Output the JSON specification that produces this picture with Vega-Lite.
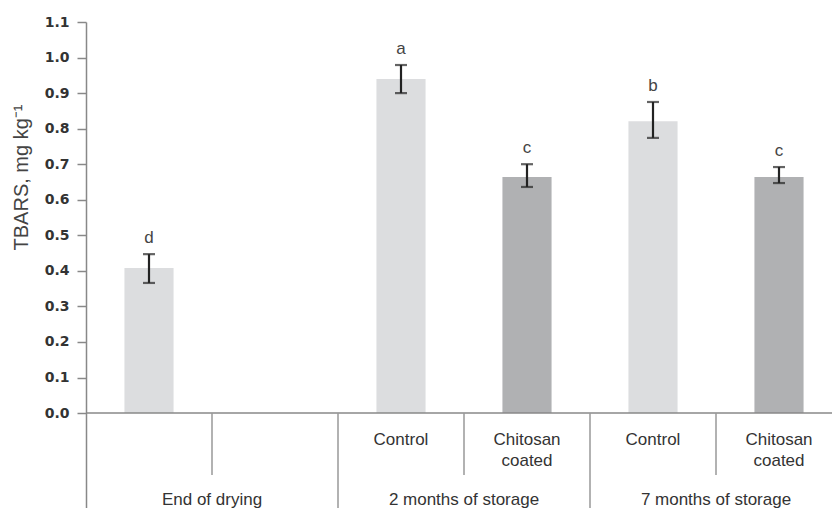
{
  "$schema": "https://vega.github.io/schema/vega-lite/v6.json",
  "autosize": {"type": "none"},
  "padding": {"left": 86, "top": 22, "right": 0, "bottom": 0},
  "width": 746,
  "height": 486,
  "background": "white",
  "config": {
    "view": {"stroke": null},
    "axisX": {"disable": true},
    "text": {"font": "Liberation Sans"}
  },
  "datasets": {
    "bars": [
      {"slot": "s1", "period": "End of drying", "treatment": "Control", "value": 0.408, "lo": 0.366, "hi": 0.447, "letter": "d"},
      {"slot": "s3", "period": "2 months of storage", "treatment": "Control", "value": 0.940, "lo": 0.900, "hi": 0.979, "letter": "a"},
      {"slot": "s4", "period": "2 months of storage", "treatment": "Chitosan coated", "value": 0.664, "lo": 0.636, "hi": 0.700, "letter": "c"},
      {"slot": "s5", "period": "7 months of storage", "treatment": "Control", "value": 0.821, "lo": 0.774, "hi": 0.875, "letter": "b"},
      {"slot": "s6", "period": "7 months of storage", "treatment": "Chitosan coated", "value": 0.664, "lo": 0.647, "hi": 0.692, "letter": "c"}
    ],
    "subs": [
      {"slot": "s3", "label": "Control"},
      {"slot": "s4", "label": "Chitosan\ncoated"},
      {"slot": "s5", "label": "Control"},
      {"slot": "s6", "label": "Chitosan\ncoated"}
    ],
    "groups": [
      {"slot": "s1", "label": "End of drying"},
      {"slot": "s3", "label": "2 months of storage"},
      {"slot": "s5", "label": "7 months of storage"}
    ],
    "shortDiv": [{"slot": "s2"}, {"slot": "s4"}, {"slot": "s6"}],
    "tallDiv": [{"slot": "s3"}, {"slot": "s5"}],
    "baseline": [{"value": 0}]
  },
  "layer": [
    {
      "data": {"name": "bars"},
      "mark": {"type": "bar", "width": {"band": 0.39}},
      "encoding": {
        "x": {
          "field": "slot", "type": "nominal", "axis": null,
          "scale": {"domain": ["s1", "s2", "s3", "s4", "s5", "s6"], "range": [0, 756], "paddingInner": 0, "paddingOuter": 0}
        },
        "y": {
          "field": "value", "type": "quantitative",
          "title": "TBARS, mg kg⁻¹",
          "scale": {"domain": [-0.267, 1.1], "nice": false, "zero": false},
          "axis": {
            "title": "TBARS, mg kg⁻¹",
            "values": [0, 0.1, 0.2, 0.3, 0.4, 0.5, 0.6, 0.7, 0.8, 0.9, 1.0, 1.1],
            "format": ".1f",
            "grid": false,
            "labelFont": "DejaVu Sans",
            "labelFontWeight": "bold",
            "labelFontSize": 14,
            "labelColor": "#333333",
            "labelPadding": 8,
            "tickSize": 9,
            "tickColor": "#888888",
            "tickWidth": 1.5,
            "domainColor": "#888888",
            "domainWidth": 1.5,
            "titleFont": "Liberation Sans",
            "titleFontSize": 20,
            "titleFontWeight": "normal",
            "titleColor": "#444444",
            "titleX": -65,
            "titleY": 155,
            "titleAlign": "center",
            "titleBaseline": "middle",
            "titleAngle": 270
          }
        },
        "color": {
          "field": "treatment", "type": "nominal", "legend": null,
          "scale": {"domain": ["Control", "Chitosan coated"], "range": ["#dcdddf", "#b0b1b3"]}
        }
      }
    },
    {
      "data": {"name": "bars"},
      "mark": {"type": "errorbar", "ticks": {"size": 12, "thickness": 2.2, "color": "#222222"}, "rule": {"strokeWidth": 2.2, "color": "#222222"}},
      "encoding": {
        "x": {"field": "slot", "type": "nominal", "axis": null},
        "y": {"field": "lo", "type": "quantitative", "title": "TBARS, mg kg⁻¹"},
        "y2": {"field": "hi"}
      }
    },
    {
      "data": {"name": "bars"},
      "mark": {"type": "text", "baseline": "bottom", "dy": -7, "fontSize": 17, "color": "#444444"},
      "encoding": {
        "x": {"field": "slot", "type": "nominal", "axis": null},
        "y": {"field": "hi", "type": "quantitative", "title": "TBARS, mg kg⁻¹"},
        "text": {"field": "letter"}
      }
    },
    {
      "data": {"name": "baseline"},
      "mark": {"type": "rule", "color": "#888888", "strokeWidth": 1.5},
      "encoding": {"y": {"field": "value", "type": "quantitative", "title": "TBARS, mg kg⁻¹"}}
    },
    {
      "data": {"name": "shortDiv"},
      "mark": {"type": "rule", "color": "#999999", "strokeWidth": 1.5},
      "encoding": {
        "x": {"field": "slot", "type": "nominal", "bandPosition": 0, "axis": null},
        "y": {"datum": 0},
        "y2": {"datum": -0.174}
      }
    },
    {
      "data": {"name": "tallDiv"},
      "mark": {"type": "rule", "color": "#999999", "strokeWidth": 1.5},
      "encoding": {
        "x": {"field": "slot", "type": "nominal", "bandPosition": 0, "axis": null},
        "y": {"datum": 0},
        "y2": {"datum": -0.267}
      }
    },
    {
      "data": {"name": "subs"},
      "mark": {"type": "text", "baseline": "alphabetic", "lineBreak": "\n", "lineHeight": 21, "fontSize": 17, "color": "#333333"},
      "encoding": {
        "x": {"field": "slot", "type": "nominal", "axis": null},
        "y": {"datum": -0.091},
        "text": {"field": "label"}
      }
    },
    {
      "data": {"name": "groups"},
      "mark": {"type": "text", "baseline": "alphabetic", "fontSize": 17, "color": "#333333"},
      "encoding": {
        "x": {"field": "slot", "type": "nominal", "bandPosition": 1, "axis": null},
        "y": {"datum": -0.259},
        "text": {"field": "label"}
      }
    }
  ]
}
